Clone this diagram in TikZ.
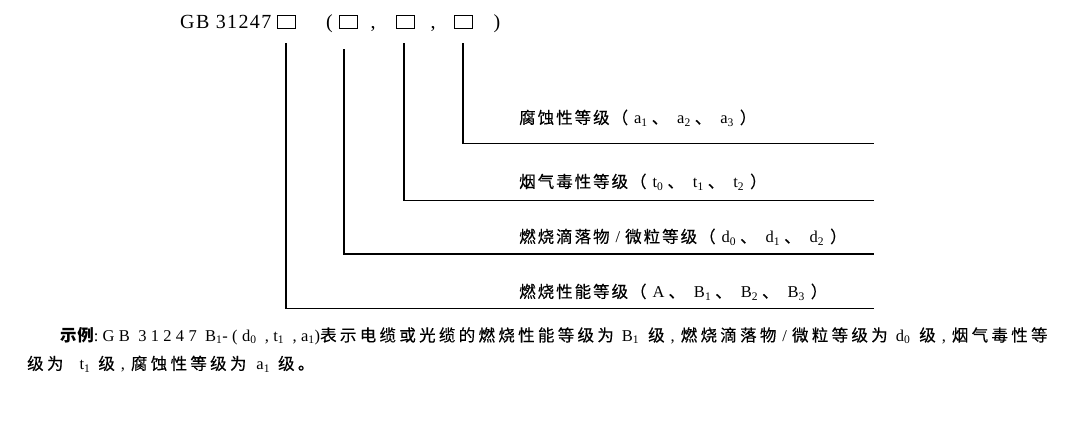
\documentclass[tikz,border=0pt]{standalone}
\usepackage{fontspec}
\setmainfont{Liberation Serif}
\newfontfamily\lat[LetterSpace=26]{Liberation Serif}
\newfontfamily\cjk[LetterSpace=12,FakeBold=0.3]{Noto Sans CJK SC}
\newfontfamily\cjkw[LetterSpace=20,FakeBold=0.3]{Noto Sans CJK SC}
\newfontfamily\cjkb[LetterSpace=4]{Noto Sans CJK SC}
\newcommand{\zh}[1]{{\cjk #1}}
\newcommand{\zw}[1]{{\cjkw #1}}
\newcommand{\la}[1]{{\lat #1}}
\newcommand{\lsub}[1]{\textsubscript{#1}}
\newcommand{\zlp}{\zh{（}\hspace{6pt}}
\newcommand{\zdn}{\hspace{4pt}\zh{、}\hspace{9pt}}
\newcommand{\zrp}{\hspace{6pt}\zh{）}}
\newcommand{\zcm}{\hspace{6pt}\la{,}\hspace{6pt}}

\tikzset{
  gradebox/.style={draw, line width=1pt, minimum width=18pt, minimum height=13pt, inner sep=0pt},
  codetext/.style={anchor=base, inner sep=0pt, font=\fontsize{20}{22}\selectfont},
  grade/.style={anchor=west, inner sep=0pt, font=\fontsize{16.5}{18}\selectfont},
  example/.style={anchor=west, inner sep=0pt, font=\fontsize{16.5}{19}\selectfont},
  conn/.style={line width=1.5pt},
}

\begin{document}
\begin{tikzpicture}[x=1pt,y=-1pt]
\useasboundingbox (0,0) rectangle (1080,422);
%code line
\node[codetext, anchor=base west] (code) at (180,28.5) {\addfontfeature{LetterSpace=7}GB 31247};
\node[gradebox] (b1) at (286,22.5) {};
\node[gradebox] (b2) at (348,22.5) {};
\node[gradebox] (b3) at (405,22.5) {};
\node[gradebox] (b4) at (463.5,22.5) {};
\node[codetext] (lp) at (329.5,28.5) {(};
\node[codetext] (c1) at (373,28.5) {,};
\node[codetext] (c2) at (433,28.5) {,};
\node[codetext] (rp) at (497,28.5) {)};

%line ends
\coordinate (e1) at (874,308.3);
\coordinate (e2) at (874,254);
\coordinate (e3) at (874,200.3);
\coordinate (e4) at (874,143.7);

\draw[conn] ([yshift=-14pt]b1.south) |- (e1);
\draw[conn] ([xshift=-4pt,yshift=-20pt]b2.south) |- (e2);
\draw[conn] ([xshift=-1pt,yshift=-14pt]b3.south) |- (e3);
\draw[conn] ([xshift=-0.5pt,yshift=-14pt]b4.south) |- (e4);

%grades
\node[grade] (g4) at (519,118) {\zh{腐蚀性等级}\zlp\la{a\lsub{1}}\zdn\la{a\lsub{2}}\zdn\la{a\lsub{3}}\zrp};
\node[grade] (g3) at (519,182) {\zh{烟气毒性等级}\zlp\la{t\lsub{0}}\zdn\la{t\lsub{1}}\zdn\la{t\lsub{2}}\zrp};
\node[grade] (g2) at (519,237) {\zh{燃烧滴落物}\hspace{6pt}\la{/}\hspace{5pt}\zh{微粒等级}\zlp\la{d\lsub{0}}\zdn\la{d\lsub{1}}\zdn\la{d\lsub{2}}\zrp};
\node[grade] (g1) at (519,292) {\zh{燃烧性能等级}\zlp\la{A}\zdn\la{B\lsub{1}}\zdn\la{B\lsub{2}}\zdn\la{B\lsub{3}}\zrp};

%example
\node[example] (ex1) at (60,336) {{\cjkb\bfseries 示例}\la{:GB 31247 B\lsub{1}-(d\lsub{0} ,t\lsub{1} ,a\lsub{1})}\zw{表示电缆或光缆的燃烧性能等级为}\hspace{8pt}\la{B\lsub{1}}\hspace{9pt}\zw{级}\zcm\zw{燃烧滴落物}\hspace{6pt}\la{/}\hspace{5pt}\zw{微粒等级为}\hspace{8pt}\la{d\lsub{0}}\hspace{9pt}\zw{级}\zcm\zw{烟气毒性等}};
\node[example] (ex2) at (27,364) {\zw{级为}\hspace{16pt}\la{t\lsub{1}}\hspace{8pt}\zw{级}\zcm\zw{腐蚀性等级为}\hspace{10pt}\la{a\lsub{1}}\hspace{8pt}\zw{级。}};
\end{tikzpicture}
\end{document}
